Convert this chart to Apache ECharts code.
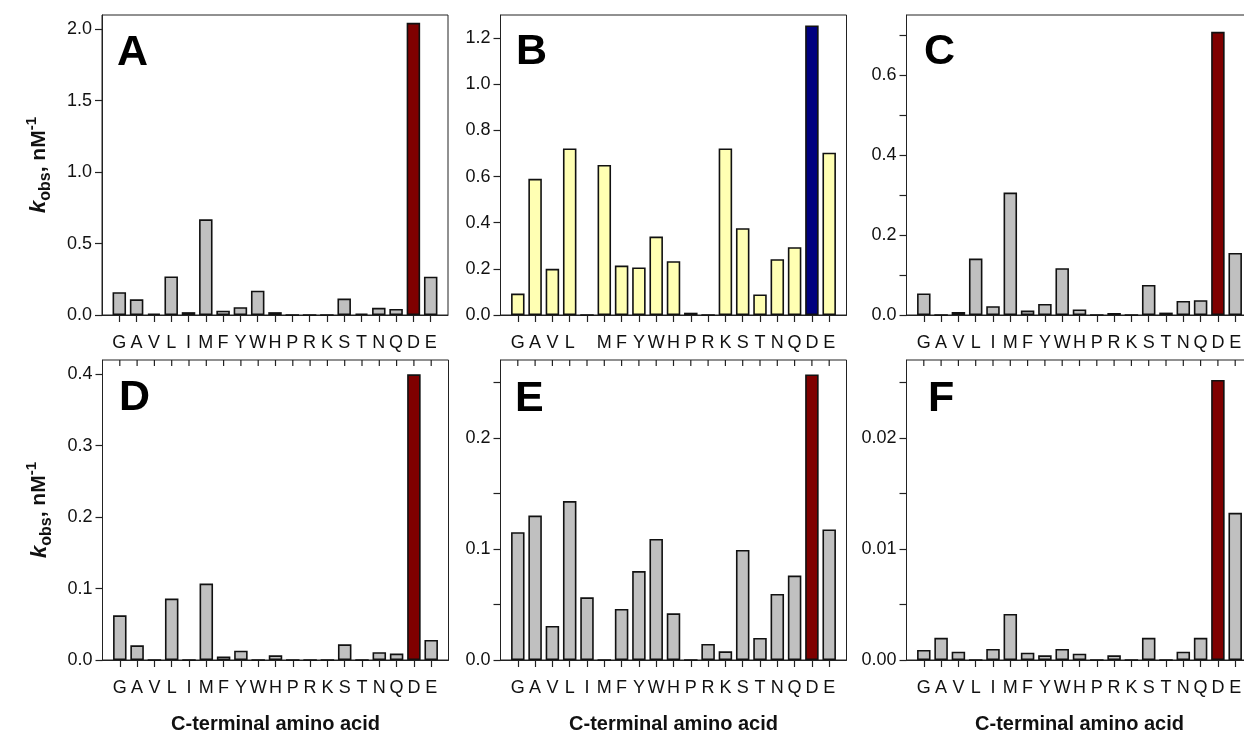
<!DOCTYPE html>
<html>
<head>
<meta charset="utf-8">
<script src="https://cdn.jsdelivr.net/npm/echarts@6/dist/echarts.min.js"></script>
<style>
  html, body { margin: 0; padding: 0; background: #fff; }
  #chart { width: 1244px; height: 734px; }
</style>
</head>
<body>
<div id="chart"></div>
<script>
// C-terminal amino acids, in plot order
var aminoAcids = ['G', 'A', 'V', 'L', 'I', 'M', 'F', 'Y', 'W', 'H', 'P', 'R', 'K', 'S', 'T', 'N', 'Q', 'D', 'E'];
// panel B leaves the I label out
var aminoLabelsB = ['G', 'A', 'V', 'L', '', 'M', 'F', 'Y', 'W', 'H', 'P', 'R', 'K', 'S', 'T', 'N', 'Q', 'D', 'E'];

// k_obs values (nM^-1), one per amino acid
var valuesA = [0.16, 0.11, 0.01, 0.27, 0.02, 0.67, 0.03, 0.055, 0.17, 0.02, 0, 0, 0, 0.115, 0.01, 0.05, 0.042, 2.045, 0.268];
var valuesB = [0.093, 0.59, 0.2, 0.722, 0, 0.65, 0.214, 0.206, 0.34, 0.233, 0.01, 0, 0.722, 0.376, 0.089, 0.242, 0.294, 1.255, 0.703];
var valuesC = [0.054, 0, 0.0075, 0.141, 0.022, 0.306, 0.011, 0.0275, 0.117, 0.014, 0, 0.005, 0, 0.075, 0.006, 0.035, 0.037, 0.708, 0.155];
var valuesD = [0.0626, 0.0205, 0, 0.086, 0, 0.107, 0.005, 0.013, 0, 0.0065, 0, 0, 0, 0.022, 0, 0.011, 0.009, 0.40, 0.028];
var valuesE = [0.115, 0.13, 0.0306, 0.143, 0.0564, 0, 0.046, 0.08, 0.109, 0.042, 0, 0.0144, 0.0078, 0.099, 0.0198, 0.0594, 0.076, 0.257, 0.1175];
var valuesF = [0.0009, 0.002, 0.00075, 0, 0.001, 0.00415, 0.00066, 0.00042, 0.001, 0.00057, 0, 0.00042, 0, 0.002, 0, 0.00075, 0.002, 0.0252, 0.01325];

// y axis ticks and labelled ticks
var ticksA = [0, 0.5, 1.0, 1.5, 2.0];
var ticksB = [0, 0.2, 0.4, 0.6, 0.8, 1.0, 1.2];
var ticksC = [0, 0.1, 0.2, 0.3, 0.4, 0.5, 0.6, 0.7];
var tickLabelsC = [0, 0.2, 0.4, 0.6];
var ticksD = [0, 0.1, 0.2, 0.3, 0.4];
var ticksE = [0, 0.05, 0.1, 0.15, 0.2, 0.25];
var tickLabelsE = [0, 0.1, 0.2];
var ticksF = [0, 0.005, 0.01, 0.015, 0.02, 0.025];
var tickLabelsF = [0, 0.01, 0.02];

var GREY = '#c0c0c0', RED = '#7f0000', YELLOW = '#ffffb3', NAVY = '#00007f';
var FONT = '"Liberation Sans", Arial, Helvetica, sans-serif';

var panels = [
    { letter: 'A', values: valuesA, labels: aminoAcids, ticks: ticksA, tickLabels: ticksA, max: 2.1, digits: 1,
      fill: GREY, hi: RED, left: 102, top: 15, lx: 117, ly: 56, yName: true, xName: false, topTicks: false },
    { letter: 'B', values: valuesB, labels: aminoLabelsB, ticks: ticksB, tickLabels: ticksB, max: 1.3, digits: 1,
      fill: YELLOW, hi: NAVY, left: 500.5, top: 15, lx: 516, ly: 55, yName: false, xName: false, topTicks: false },
    { letter: 'C', values: valuesC, labels: aminoAcids, ticks: ticksC, tickLabels: tickLabelsC, max: 0.75, digits: 1,
      fill: GREY, hi: RED, left: 906.5, top: 15, lx: 924, ly: 55, yName: false, xName: false, topTicks: false },
    { letter: 'D', values: valuesD, labels: aminoAcids, ticks: ticksD, tickLabels: ticksD, max: 0.42, digits: 1,
      fill: GREY, hi: RED, left: 102.5, top: 360, lx: 119, ly: 401, yName: true, xName: true, topTicks: true },
    { letter: 'E', values: valuesE, labels: aminoAcids, ticks: ticksE, tickLabels: tickLabelsE, max: 0.27, digits: 1,
      fill: GREY, hi: RED, left: 500.5, top: 360, lx: 515, ly: 402, yName: false, xName: true, topTicks: true },
    { letter: 'F', values: valuesF, labels: aminoAcids, ticks: ticksF, tickLabels: tickLabelsF, max: 0.027, digits: 2,
      fill: GREY, hi: RED, left: 906.5, top: 360, lx: 928, ly: 402, yName: false, xName: true, topTicks: true }
];

var PW = 346, PH = 300, TOPTICK = 6;
var grids = [], xAxes = [], yAxes = [], series = [], graphics = [];

// short tick hanging down from the top edge at a category position
function topTick(params, api) {
    var x = api.coord([api.value(0), 0])[0];
    var y0 = params.coordSys.y;
    return { type: 'line', shape: { x1: x, y1: y0, x2: x, y2: y0 + TOPTICK },
        style: { stroke: '#222', lineWidth: 1.2 } };
}

panels.forEach(function (p, i) {
    // one empty slot on each side, so the first bar sits a full step in
    var cats = [''].concat(p.labels, ['']);
    var hiIdx = aminoAcids.indexOf('D');
    var data = [null];
    p.values.forEach(function (v, k) {
        data.push(k === hiIdx ? { value: v, itemStyle: { color: p.hi } } : v);
    });
    data.push(null);
    var tickAt = function (idx) { return idx > 0 && idx < cats.length - 1; };

    grids.push({ left: p.left, top: p.top, width: PW, height: PH, show: true, outerBoundsMode: 'none',
        borderColor: '#222', borderWidth: 1, backgroundColor: 'transparent' });

    xAxes.push({
        type: 'category', gridIndex: i, data: cats, boundaryGap: false, position: 'bottom',
        axisLine: { show: true, onZero: false, lineStyle: { color: '#222', width: 1 } },
        axisTick: { show: true, length: 7, lineStyle: { color: '#222', width: 1.2 }, interval: tickAt },
        axisLabel: { show: true, interval: 0, margin: 19, fontSize: 18, color: '#111', fontFamily: FONT },
        splitLine: { show: false },
        name: p.xName ? 'C-terminal amino acid' : '', nameLocation: 'middle', nameGap: 54,
        nameTextStyle: { fontSize: 20, fontWeight: 'bold', color: '#111', fontFamily: FONT }
    });

    yAxes.push({
        type: 'value', gridIndex: i, min: 0, max: p.max,
        axisLine: { show: true, onZero: false, lineStyle: { color: '#222', width: 1 } },
        axisTick: { show: true, length: 7, customValues: p.ticks, lineStyle: { color: '#222', width: 1.2 } },
        axisLabel: { show: true, customValues: p.tickLabels, margin: 10, fontSize: 18, color: '#111', fontFamily: FONT,
            formatter: (function (d) { return function (v) { return v.toFixed(d); }; })(p.digits) },
        splitLine: { show: false },
        name: p.yName ? '{k|k}{sub|obs}{t|, nM}{sup|-1}' : '',
        nameLocation: 'middle', nameRotate: 90, nameGap: 48,
        nameTextStyle: {
            fontFamily: FONT, color: '#111',
            rich: {
                k: { fontStyle: 'italic', fontWeight: 'bold', fontSize: 22, lineHeight: 30, fontFamily: FONT, color: '#111' },
                sub: { fontWeight: 'bold', fontSize: 16, verticalAlign: 'bottom', fontFamily: FONT, color: '#111' },
                t: { fontWeight: 'bold', fontSize: 21, fontFamily: FONT, color: '#111' },
                sup: { fontWeight: 'bold', fontSize: 15, verticalAlign: 'top', fontFamily: FONT, color: '#111' }
            }
        }
    });

    series.push({
        type: 'bar', xAxisIndex: i, yAxisIndex: i, data: data, barWidth: 13.5,
        itemStyle: { color: p.fill, borderColor: '#111', borderWidth: 1.6 },
        animation: false, silent: true
    });

    // bottom row: inward ticks along the top edge, one per amino acid
    if (p.topTicks) {
        series.push({
            type: 'custom', xAxisIndex: i, yAxisIndex: i, renderItem: topTick, silent: true, animation: false,
            clip: false,
            data: aminoAcids.map(function (a, k) { return [k + 1, 0]; })
        });
    }

    graphics.push({
        type: 'text', left: p.lx, top: p.ly - 24,
        style: { text: p.letter, fontSize: 43, fontWeight: 'bold', fill: '#000', fontFamily: FONT }
    });
});

var myChart = echarts.init(document.getElementById('chart'));
myChart.setOption({
    animation: false,
    backgroundColor: '#fff',
    grid: grids,
    xAxis: xAxes,
    yAxis: yAxes,
    series: series,
    graphic: graphics
});
</script>
</body>
</html>
